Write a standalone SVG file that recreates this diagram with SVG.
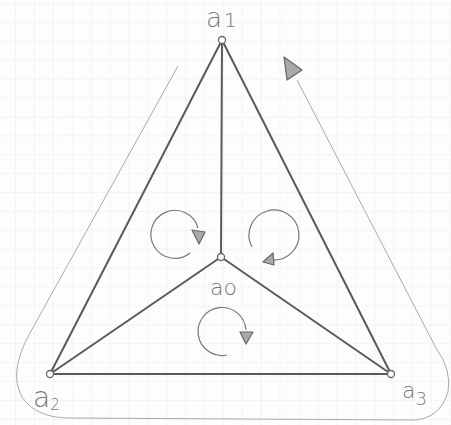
<svg xmlns="http://www.w3.org/2000/svg" width="451" height="425" viewBox="0 0 451 425">
<defs>
<pattern id="grid" x="15" y="3" width="18.9" height="18.9" patternUnits="userSpaceOnUse">
<path d="M0,0 V18.9 M0,0 H18.9" fill="none" stroke="#ececec" stroke-width="1"/>
</pattern>
</defs>
<style>
.edge{stroke:#5a5a5a;stroke-width:2;fill:none;stroke-linecap:round}
.node{fill:#fff;stroke:#666;stroke-width:1.3}
.lbl{font-family:"DejaVu Sans","Liberation Sans",sans-serif;font-weight:200;fill:#777}
.rot{fill:none;stroke:#777;stroke-width:1.2}
.head{fill:#aaa;stroke:#666;stroke-width:1.2;stroke-linejoin:round}
.outline{fill:none;stroke:#aaa;stroke-width:1}
</style>
<rect width="451" height="425" fill="#fdfdfd"/>
<rect width="451" height="425" fill="url(#grid)"/>
<g id="outline">
<path class="outline" d="M178,66 L30,333 Q8,372 22,397 Q36,418 70,418 L415,420 Q440,418 448,392 Q452,370 436,348 L297,80"/>
<polygon class="head" points="284,57 287,80 302,70"/>
</g>
<g id="connectors">
<line class="edge" x1="222" y1="40" x2="50" y2="374"/>
<line class="edge" x1="222" y1="40" x2="391" y2="374"/>
<line class="edge" x1="222" y1="40" x2="221" y2="257"/>
<line class="edge" x1="221" y1="257" x2="50" y2="374"/>
<line class="edge" x1="221" y1="257" x2="391" y2="374"/>
<line class="edge" x1="50" y1="374" x2="391" y2="374"/>
</g>
<g id="rotations">
<path class="rot" d="M190,253 A24,24 0 1 1 198,228"/>
<polygon class="head" points="192,230 205,232 199,244"/>
<path class="rot" d="M252,247 A25,25 0 1 1 272,260"/>
<polygon class="head" points="273,253 274,265 263,262"/>
<path class="rot" d="M227,355 A24,24 0 1 1 246,330"/>
<polygon class="head" points="240,332 253,332 246,344"/>
</g>
<g id="a1">
<circle class="node" cx="222" cy="40" r="3.5"/>
<text class="lbl" x="206" y="27" font-size="26">a<tspan font-size="20" dx="2">1</tspan></text>
</g>
<g id="a0">
<circle class="node" cx="221" cy="257" r="3.5"/>
<text class="lbl" x="210" y="295" font-size="22">ao</text>
</g>
<g id="a2">
<circle class="node" cx="50" cy="374" r="3.5"/>
<text class="lbl" x="33" y="407" font-size="28">a<tspan font-size="15" dy="3">2</tspan></text>
</g>
<g id="a3">
<circle class="node" cx="391" cy="374" r="3.5"/>
<text class="lbl" x="402" y="398" font-size="22">a<tspan font-size="18" dy="7">3</tspan></text>
</g>
</svg>
